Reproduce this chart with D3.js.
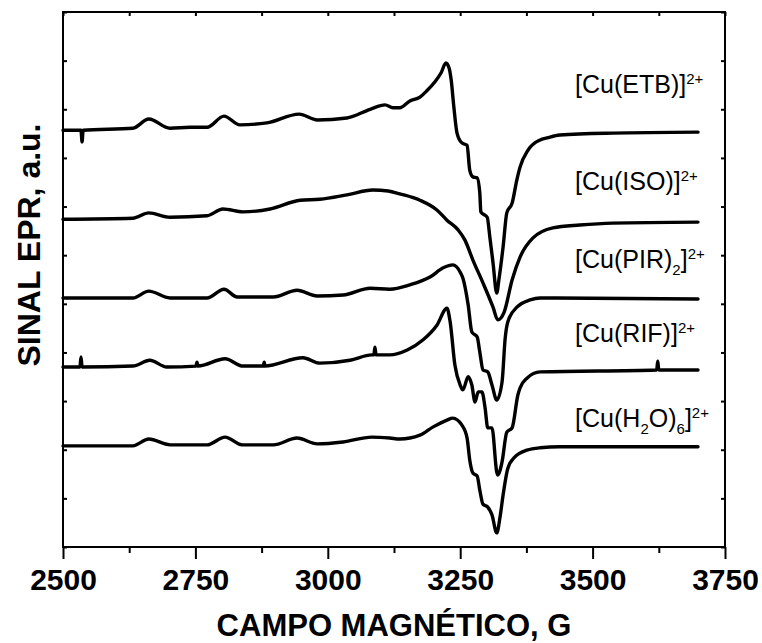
<!DOCTYPE html>
<html>
<head>
<meta charset="utf-8">
<script src="https://cdn.jsdelivr.net/npm/d3@7"></script>
<style>
  html, body { margin: 0; padding: 0; background: #fff; }
  svg text { font-family: "Liberation Sans", Arial, Helvetica, sans-serif; }
</style>
</head>
<body>
<svg id="chart" width="762" height="643"></svg>
<script>
// EPR first-derivative spectra of the Cu(II) complexes, stacked with vertical offsets (a.u.)

// [Cu(ETB)]2+
const etbField  = [2500,2534,2536,2538,2632,2662,2702,2740,2772,2804,2834,2885,2946,2980,3036,3080,3108,3123,3136,3155,3174,3187,3202,3214,3223,3229,3233,3238,3244,3253,3263,3268,3274,3282,3287,3289,3301,3306,3312,3319,3323,3331,3338,3348,3357,3363,3378,3401,3414,3438,3538,3699];
const etbSignal = [8.57,8.57,8.33,8.57,8.61,8.80,8.61,8.63,8.63,8.86,8.68,8.72,8.90,8.78,8.82,9.00,9.09,9.03,9.03,9.17,9.25,9.38,9.56,9.75,9.95,9.85,9.60,9.05,8.51,8.31,8.26,7.75,7.61,7.59,7.28,6.89,6.78,6.37,5.84,5.22,5.49,6.17,6.87,7.07,7.55,7.81,8.16,8.37,8.41,8.47,8.51,8.53];

// [Cu(ISO)]2+
const isoField  = [2500,2632,2662,2702,2772,2802,2840,2891,2948,2985,3036,3085,3114,3136,3174,3206,3225,3246,3259,3274,3293,3312,3321,3333,3348,3363,3387,3425,3476,3538,3699];
const isoSignal = [6.74,6.76,6.87,6.78,6.81,6.95,6.89,6.95,7.13,7.15,7.24,7.34,7.32,7.26,7.13,6.93,6.72,6.52,6.31,5.90,5.43,4.93,4.67,4.83,5.49,5.96,6.35,6.56,6.62,6.66,6.68];

// [Cu(PIR)2]2+
const pirField  = [2500,2632,2662,2702,2772,2804,2829,2897,2942,2980,3029,3080,3117,3155,3193,3218,3236,3250,3255,3265,3272,3282,3287,3293,3302,3310,3319,3329,3335,3340,3357,3382,3401,3699];
const pirSignal = [5.12,5.12,5.26,5.12,5.12,5.30,5.14,5.14,5.28,5.16,5.18,5.32,5.30,5.39,5.55,5.74,5.80,5.65,5.53,4.98,4.42,4.32,4.01,3.64,3.60,3.33,3.02,3.39,4.30,4.63,4.93,5.08,5.12,5.10];

// [Cu(RIF)]2+
const rifField  = [2500,2532,2534,2536,2632,2664,2696,2751,2753,2755,2806,2840,2878,2880,2881,2953,2985,3042,3083,3087,3089,3091,3117,3150,3180,3206,3225,3231,3240,3250,3255,3265,3272,3278,3284,3291,3297,3302,3310,3319,3321,3329,3338,3348,3359,3363,3376,3401,3621,3623,3625,3699];
const rifSignal = [3.70,3.70,3.91,3.70,3.72,3.84,3.70,3.72,3.80,3.72,3.87,3.72,3.72,3.80,3.72,3.89,3.78,3.84,3.95,3.95,4.11,3.95,3.95,4.05,4.26,4.56,4.91,4.63,3.74,3.33,3.23,3.50,3.33,2.98,3.19,3.19,2.86,2.45,2.45,1.54,1.48,1.75,2.36,2.45,3.13,3.27,3.47,3.60,3.64,3.82,3.64,3.64];

// [Cu(H2O)6]2+
const aquaField  = [2500,2632,2662,2702,2772,2806,2838,2897,2942,2980,3029,3083,3117,3136,3174,3199,3225,3236,3253,3263,3268,3274,3282,3287,3293,3302,3310,3319,3325,3331,3340,3353,3376,3401,3438,3699];
const aquaSignal = [2.08,2.08,2.22,2.10,2.10,2.26,2.10,2.10,2.24,2.12,2.16,2.26,2.24,2.22,2.30,2.47,2.61,2.65,2.51,2.24,1.79,1.52,1.46,1.17,0.88,0.82,0.66,0.29,0.60,1.07,1.62,1.85,1.99,2.04,2.06,2.06];

// Axis ticks
const fieldTicks = [2500, 2750, 3000, 3250, 3500, 3750];
const fieldMinorTicks = [2625, 2875, 3125, 3375, 3625];
const signalTicks = [0,1,2,3,4,5,6,7,8,9,10,11];

const series = [
  { field: etbField,  signal: etbSignal },
  { field: isoField,  signal: isoSignal },
  { field: pirField,  signal: pirSignal },
  { field: rifField,  signal: rifSignal },
  { field: aquaField, signal: aquaSignal }
];

const svg = d3.select("#chart");
const margin = { left: 63, top: 12, right: 37, bottom: 96 };
const W = 762 - margin.left - margin.right;
const H = 643 - margin.top - margin.bottom;

const x = d3.scaleLinear().domain([2500, 3750]).range([0, W]);
const y = d3.scaleLinear().domain([0, 11]).range([H, 0]);

const g = svg.append("g").attr("transform", `translate(${margin.left},${margin.top})`);

// Spectra
const line = d3.line()
  .x(d => x(d[0]))
  .y(d => y(d[1]))
  .curve(d3.curveMonotoneX);

series.forEach(s => {
  const pts = s.field.map((f, i) => [f, s.signal[i]]);
  g.append("path")
    .attr("d", line(pts))
    .attr("fill", "none")
    .attr("stroke", "#000")
    .attr("stroke-width", 3.4)
    .attr("stroke-linejoin", "round")
    .attr("stroke-linecap", "round");
});

// Frame
g.append("rect")
  .attr("x", 0).attr("y", 0).attr("width", W).attr("height", H)
  .attr("fill", "none").attr("stroke", "#000").attr("stroke-width", 2);

function styleAxis(sel) {
  sel.select(".domain").remove();
  sel.selectAll(".tick line").attr("stroke", "#000").attr("stroke-width", 2);
}

// Bottom axis: major ticks with labels, outward
const axisB = g.append("g")
  .attr("transform", `translate(0,${H})`)
  .call(d3.axisBottom(x).tickValues(fieldTicks).tickSize(12).tickPadding(10).tickFormat(d3.format("d")));
styleAxis(axisB);
axisB.selectAll(".tick text")
  .attr("fill", "#000")
  .style("font-family", '"Liberation Sans", Arial, sans-serif')
  .style("font-size", "30px")
  .style("font-weight", "bold");

// Bottom minor ticks
const axisBMinor = g.append("g")
  .attr("transform", `translate(0,${H})`)
  .call(d3.axisBottom(x).tickValues(fieldMinorTicks).tickSize(6).tickFormat(""));
styleAxis(axisBMinor);

// Top ticks, inward
const axisT = g.append("g")
  .call(d3.axisTop(x).tickValues(fieldTicks.concat(fieldMinorTicks)).tickSize(-4).tickFormat(""));
styleAxis(axisT);

// Left and right ticks, inward, unlabeled
const axisL = g.append("g")
  .call(d3.axisLeft(y).tickValues(signalTicks).tickSize(-4).tickFormat(""));
styleAxis(axisL);
const axisR = g.append("g")
  .attr("transform", `translate(${W},0)`)
  .call(d3.axisRight(y).tickValues(signalTicks).tickSize(-4).tickFormat(""));
styleAxis(axisR);

// Axis titles
svg.append("text")
  .attr("x", margin.left + W / 2)
  .attr("y", 636)
  .attr("text-anchor", "middle")
  .style("font-size", "31px")
  .style("font-weight", "bold")
  .text("CAMPO MAGNÉTICO, G");

svg.append("text")
  .attr("transform", "translate(40,245) rotate(-90)")
  .attr("text-anchor", "middle")
  .style("font-size", "32px")
  .style("font-weight", "bold")
  .text("SINAL EPR, a.u.");

// Complex labels: each is a list of [text, role] parts (role: n normal, sub, sup)
const labels = [
  { at: [3467, 9.33], parts: [["[Cu(ETB)]", "n"], ["2+", "sup"]] },
  { at: [3467, 7.34], parts: [["[Cu(ISO)]", "n"], ["2+", "sup"]] },
  { at: [3467, 5.74], parts: [["[Cu(PIR)", "n"], ["2", "sub"], ["]", "n"], ["2+", "sup"]] },
  { at: [3467, 4.21], parts: [["[Cu(RIF)]", "n"], ["2+", "sup"]] },
  { at: [3467, 2.47], parts: [["[Cu(H", "n"], ["2", "sub"], ["O)", "n"], ["6", "sub"], ["]", "n"], ["2+", "sup"]] }
];
const shift = { n: 0, sub: 7, sup: -9 };

labels.forEach(l => {
  const t = g.append("text")
    .attr("x", x(l.at[0]))
    .attr("y", y(l.at[1]))
    .style("font-size", "25px");
  let cur = 0;
  l.parts.forEach(([txt, role]) => {
    const target = shift[role];
    t.append("tspan")
      .attr("dy", target - cur)
      .style("font-size", role === "n" ? "25px" : "15px")
      .text(txt);
    cur = target;
  });
});
</script>
</body>
</html>
